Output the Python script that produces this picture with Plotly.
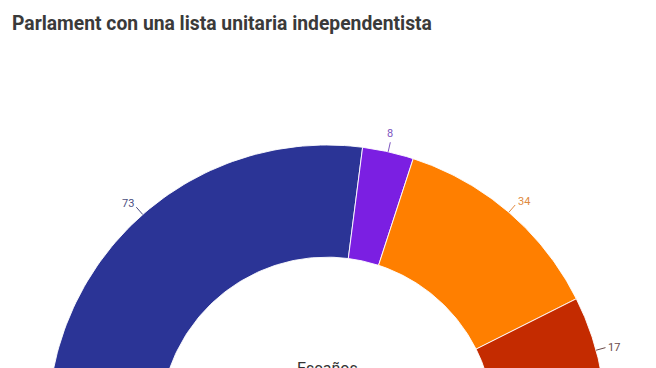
import numpy as np
import plotly.graph_objects as go

# Data
parties = ["Lista unitaria", "Partido morado", "Partido naranja", "Partido rojo", "Otros"]
seats = [73, 8, 34, 17, 3]
colors = ["#2b3496", "#7b1fe2", "#ff7f00", "#c42b00", "#0bb2ff"]
label_colors = ["#4a4e80", "#7d55c0", "#e08a40", "#6a4a48", "#3a8ab0"]
title_text = "Parlament con una lista unitaria independentista"
center_text = "Escaños"

W, H = 656, 368
OFF = 8  # page body margin
# geometry (in figure pixels) of the semicircle
CX, CY, R = 327.0 - OFF, 424.0 - OFF, 279.0
HOLE = 0.598

total = sum(seats)
x_range = [-CX / R, (W - CX) / R]
y_range = [(CY - H) / R, CY / R]

fig = go.Figure()
start = 180.0
annotations = []
shapes = []
for name, v, col, lcol in zip(parties, seats, colors, label_colors):
    span = v / total * 180.0
    a0, a1 = start, start - span
    t = np.radians(np.linspace(a0, a1, 80))
    xo, yo = np.cos(t), np.sin(t)
    xi, yi = HOLE * np.cos(t[::-1]), HOLE * np.sin(t[::-1])
    xs = np.concatenate([xo, xi, xo[:1]])
    ys = np.concatenate([yo, yi, yo[:1]])
    fig.add_trace(go.Scatter(x=xs, y=ys, mode="lines", fill="toself",
                             fillcolor=col, line=dict(color="rgba(255,255,255,0.9)", width=1),
                             hoverinfo="skip", showlegend=False, name=name))
    mid = np.radians((a0 + a1) / 2)
    c, s = np.cos(mid), np.sin(mid)
    shapes.append(dict(type="line", x0=1.0 * c, y0=1.0 * s, x1=1.035 * c, y1=1.035 * s,
                       line=dict(color=lcol, width=1), layer="above"))
    if c > 0.3:
        xa, ya, ys_ = "left", "middle", (3 if s > 0.5 else 0)
    elif c < -0.3:
        xa, ya, ys_ = "right", "middle", 4
    else:
        xa, ya, ys_ = "center", "bottom", 0
    annotations.append(dict(x=1.035 * c, y=1.035 * s, text=str(v), showarrow=False,
                            xanchor=xa, yanchor=ya, yshift=ys_,
                            font=dict(family="Roboto", size=11, color=lcol),
                            xshift=1 if xa == "left" else 0))
    start = a1

annotations.append(dict(x=0, y=(CY - 368 + OFF) / R, text=center_text, showarrow=False,
                        xanchor="center", yanchor="middle",
                        font=dict(family="Roboto", size=16, color="#333333")))

fig.update_layout(
    width=W, height=H,
    margin=dict(l=0, r=0, t=0, b=0),
    paper_bgcolor="white", plot_bgcolor="white",
    xaxis=dict(range=x_range, visible=False, fixedrange=True),
    yaxis=dict(range=y_range, visible=False, fixedrange=True),
    title=dict(text=title_text, x=(12 - OFF) / W, xanchor="left", y=1 - (23 - OFF) / H, yanchor="middle",
               font=dict(family="Roboto", size=19.3, color="#3a3a3a", weight="bold")),
    annotations=annotations,
    shapes=shapes,
)
fig.write_html("out.html")
